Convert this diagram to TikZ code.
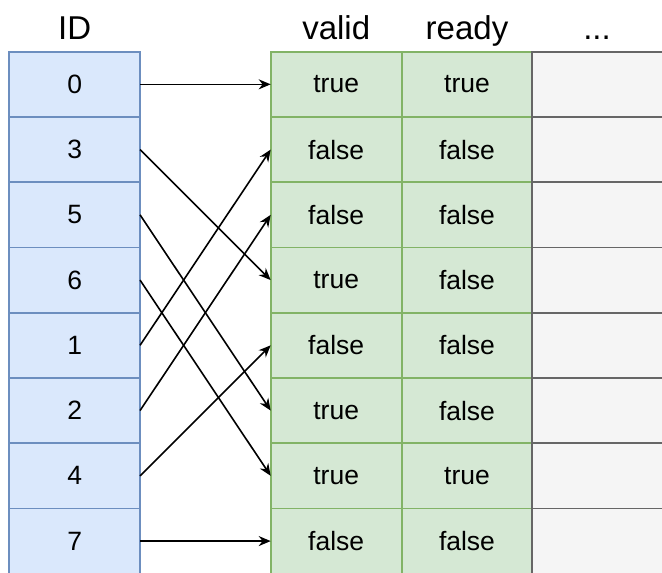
\documentclass[tikz,border=0pt]{standalone}
\usepackage{fontspec}
\setmainfont{Liberation Sans}
\usetikzlibrary{arrows.meta}
\definecolor{bfill}{HTML}{DAE8FC}
\definecolor{bstroke}{HTML}{6C8EBF}
\definecolor{gfill}{HTML}{D5E8D4}
\definecolor{gstroke}{HTML}{82B366}
\definecolor{kfill}{HTML}{F5F5F5}
\definecolor{kstroke}{HTML}{666666}
\begin{document}
\begin{tikzpicture}[x=1pt,y=-1pt,
  cell/.style={minimum height=65.25pt, inner sep=0pt, outer sep=0pt, line width=1.8pt, font=\fontsize{26.5}{30}\selectfont},
  idcell/.style={cell, minimum width=130.7pt, draw=bstroke, fill=bfill},
  vcell/.style={cell, minimum width=131pt, draw=gstroke, fill=gfill},
  rcell/.style={cell, minimum width=130.6pt, draw=gstroke, fill=gfill},
  kcell/.style={cell, minimum width=130.7pt, draw=kstroke, fill=kfill},
  head/.style={anchor=base, inner sep=0pt, font=\fontsize{33}{38}\selectfont},
  arr/.style={line width=1.6pt, -{Stealth[length=12pt,width=10pt]}}
]
\useasboundingbox (0,0) rectangle (662,573);
% headers
\node[head] (hid) at (74.7,39.5) {ID};
\node[head] (hvalid) at (336.2,39.5) {valid};
\node[head] (hready) at (467,39.5) {ready};
\node[head] (hdots) at (597,39.5) {...};
% rows
\foreach \i/\id/\v/\r in {0/0/true/true, 1/3/false/false, 2/5/false/false, 3/6/true/false, 4/1/false/false, 5/2/true/false, 6/4/true/true, 7/7/false/false} {
  \pgfmathsetmacro{\yy}{51.7+65.25*(\i+0.5)}
  \node[idcell] (a\i) at (74.7,\yy) {\id};
  \node[vcell] (v\i) at (336.2,\yy) {\v};
  \node[rcell] (r\i) at (467,\yy) {\r};
  \node[kcell] (k\i) at (597.7,\yy) {};
}
% arrows
\foreach \s/\t in {0/0, 1/3, 2/5, 3/6, 4/1, 5/2, 6/4, 7/7} {
  \draw[arr] (a\s.east) -- (v\t.west);
}
\end{tikzpicture}
\end{document}
